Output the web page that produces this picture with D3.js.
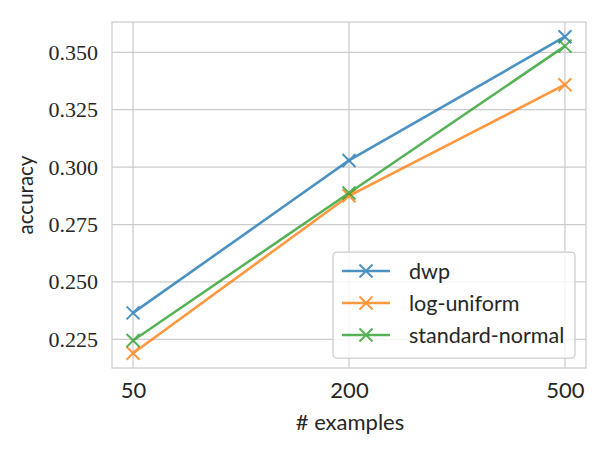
<!DOCTYPE html>
<html><head><meta charset="utf-8">
<script src="https://cdn.jsdelivr.net/npm/d3@7"></script>
<style>body{margin:0;background:#fff}svg{display:block}
.serif{font-family:"Liberation Serif","DejaVu Serif","Times New Roman",serif !important;}
.sans{font-family:Lato,"Open Sans",sans-serif !important;}
</style>
</head><body>
<svg id="c" width="609" height="449"></svg>
<script>
const categories = ["50", "200", "500"];
const seriesNames = ["dwp", "log-uniform", "standard-normal"];
const dwp = [0.2365, 0.3029, 0.3568];
const logUniform = [0.2189, 0.2875, 0.3359];
const standardNormal = [0.2245, 0.2887, 0.3527];
const yTicks = [0.225, 0.250, 0.275, 0.300, 0.325, 0.350];
const colors = ["#1f77b4", "#ff7f0e", "#2ca02c"];
const series = [dwp, logUniform, standardNormal];

const svg = d3.select("#c");
const L = 112, R = 586, T = 22, B = 368;
const x = d3.scalePoint().domain(categories).range([L, R]).padding(0.0975);
const y = d3.scaleLinear().domain([0.2125, 0.3632]).range([B, T]);

// grid
const g = svg.append("g");
g.selectAll(".gy").data(yTicks).enter().append("line")
  .attr("x1", L).attr("x2", R).attr("y1", d => y(d)).attr("y2", d => y(d))
  .attr("stroke", "#cccccc").attr("stroke-width", 1.25);
g.selectAll(".gx").data(categories).enter().append("line")
  .attr("y1", T).attr("y2", B).attr("x1", d => x(d)).attr("x2", d => x(d))
  .attr("stroke", "#cccccc").attr("stroke-width", 1.25);
svg.append("rect").attr("x", L).attr("y", T).attr("width", R - L).attr("height", B - T)
  .attr("fill", "none").attr("stroke", "#cccccc").attr("stroke-width", 1.25);

// axes
const ya = d3.axisLeft(y).tickValues(yTicks).tickFormat(d3.format(".3f")).tickSize(0).tickPadding(14);
const yg = svg.append("g").attr("transform", `translate(${L},0)`).call(ya);
yg.select(".domain").remove();
yg.attr("font-family", null);
yg.selectAll("text").attr("class", "serif").attr("font-size", 22).attr("fill", "#262626");
const xa = d3.axisBottom(x).tickSize(0).tickPadding(14);
const xg = svg.append("g").attr("transform", `translate(0,${B})`).call(xa);
xg.select(".domain").remove();
xg.selectAll("text").attr("class", "sans").attr("font-size", 22).attr("fill", "#262626");

svg.append("text").attr("class", "sans").attr("x", (L + R) / 2 + 1).attr("y", 430).attr("text-anchor", "middle")
  .attr("font-size", 22).attr("fill", "#262626").text("# examples");
svg.append("text").attr("class", "sans").attr("transform", `translate(33,${(T + B) / 2}) rotate(-90)`).attr("text-anchor", "middle")
  .attr("font-size", 20.5).attr("fill", "#262626").text("accuracy");

// lines
const line = d3.line().x((d, i) => x(categories[i])).y(d => y(d));
function cross(sel, cx, cy, col, s) {
  sel.append("path").attr("d", `M${cx - s},${cy - s}L${cx + s},${cy + s}M${cx - s},${cy + s}L${cx + s},${cy - s}`)
    .attr("stroke", col).attr("stroke-width", 2).attr("fill", "none");
}
series.forEach((vals, k) => {
  const sg = svg.append("g").attr("opacity", 0.8);
  sg.append("path").attr("d", line(vals)).attr("fill", "none").attr("stroke", colors[k]).attr("stroke-width", 2.6);
  vals.forEach((v, i) => cross(sg, x(categories[i]), y(v), colors[k], 6.5));
});

// legend
const lg = svg.append("g");
lg.append("rect").attr("x", 333).attr("y", 252).attr("width", 242).attr("height", 106).attr("rx", 4)
  .attr("fill", "#ffffff").attr("fill-opacity", 0.8).attr("stroke", "#cccccc").attr("stroke-width", 1.25);
seriesNames.forEach((n, k) => {
  const yy = 271 + k * 32;
  const eg = lg.append("g").attr("opacity", 0.8);
  eg.append("line").attr("x1", 342).attr("x2", 390).attr("y1", yy).attr("y2", yy).attr("stroke", colors[k]).attr("stroke-width", 2.6);
  cross(eg, 366, yy, colors[k], 6.5);
  lg.append("text").attr("class", "sans").attr("x", 409).attr("y", yy).attr("dy", "0.35em")
    .attr("font-size", 21.5).attr("fill", "#262626").text(n);
});
</script>
</body></html>
